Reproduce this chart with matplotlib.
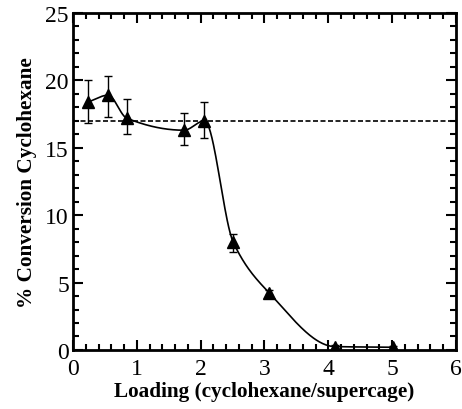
import numpy as np
import matplotlib
matplotlib.use("Agg")
import matplotlib.pyplot as plt
from matplotlib.ticker import MultipleLocator

# data
loading = [0.24, 0.55, 0.84, 1.74, 2.06, 2.51, 3.07, 4.10, 5.01]
conversion = [18.4, 18.9, 17.2, 16.3, 17.0, 8.0, 4.25, 0.25, 0.2]
err_up = [1.6, 1.45, 1.4, 1.25, 1.4, 0.6, 0.2, 0.1, 0.1]
err_down = [1.6, 1.6, 1.2, 1.1, 1.3, 0.7, 0.2, 0.1, 0.1]
baseline = 17.0


def pchip(x, y, xs):
    # monotone cubic (Fritsch-Carlson) for the smooth guide line
    x = np.asarray(x, float)
    y = np.asarray(y, float)
    h = np.diff(x)
    d = np.diff(y) / h
    m = np.zeros_like(y)
    for k in range(1, len(x) - 1):
        if d[k - 1] * d[k] > 0:
            w1 = 2 * h[k] + h[k - 1]
            w2 = h[k] + 2 * h[k - 1]
            m[k] = (w1 + w2) / (w1 / d[k - 1] + w2 / d[k])
    m[0] = d[0]
    m[-1] = d[-1]
    out = np.empty_like(xs)
    for i, xv in enumerate(xs):
        k = min(max(np.searchsorted(x, xv) - 1, 0), len(x) - 2)
        t = (xv - x[k]) / h[k]
        h00 = 2 * t**3 - 3 * t**2 + 1
        h10 = t**3 - 2 * t**2 + t
        h01 = -2 * t**3 + 3 * t**2
        h11 = t**3 - t**2
        out[i] = h00 * y[k] + h10 * h[k] * m[k] + h01 * y[k + 1] + h11 * h[k] * m[k + 1]
    return out


plt.rcParams['font.family'] = ['Liberation Serif', 'DejaVu Serif']
fig = plt.figure(figsize=(4.62, 4.10), dpi=100)
ax = fig.add_axes([0.158, 0.144, 0.829, 0.822])

xs = np.linspace(loading[0], loading[-1], 400)
ax.plot(xs, pchip(loading, conversion, xs), color='black', lw=1.2)
ax.errorbar(loading, conversion, yerr=[err_down, err_up], fmt='^', color='black',
            ms=8, capsize=3, elinewidth=1, capthick=1)
ax.axhline(baseline, color='black', ls=(0, (3, 1.5)), lw=1.2)

ax.set_xlim(0, 6)
ax.set_ylim(0, 25)
ax.xaxis.set_major_locator(MultipleLocator(1))
ax.xaxis.set_minor_locator(MultipleLocator(0.2))
ax.yaxis.set_major_locator(MultipleLocator(5))
ax.yaxis.set_minor_locator(MultipleLocator(1))
ax.tick_params(which='both', direction='in', top=True, right=True, width=1.5,
               labelsize=17, colors='black')
ax.tick_params(which='major', length=7)
ax.tick_params(which='minor', length=4)
ax.tick_params(axis='x', pad=6)
ax.tick_params(axis='y', pad=3)
for s in ax.spines.values():
    s.set_linewidth(2)

ax.set_xlabel('Loading (cyclohexane/supercage)', fontsize=15.3, fontweight='bold', labelpad=1)
ax.set_ylabel('% Conversion Cyclohexane', fontsize=15.3, fontweight='bold', labelpad=6)

fig.savefig('out.png', dpi=100)
